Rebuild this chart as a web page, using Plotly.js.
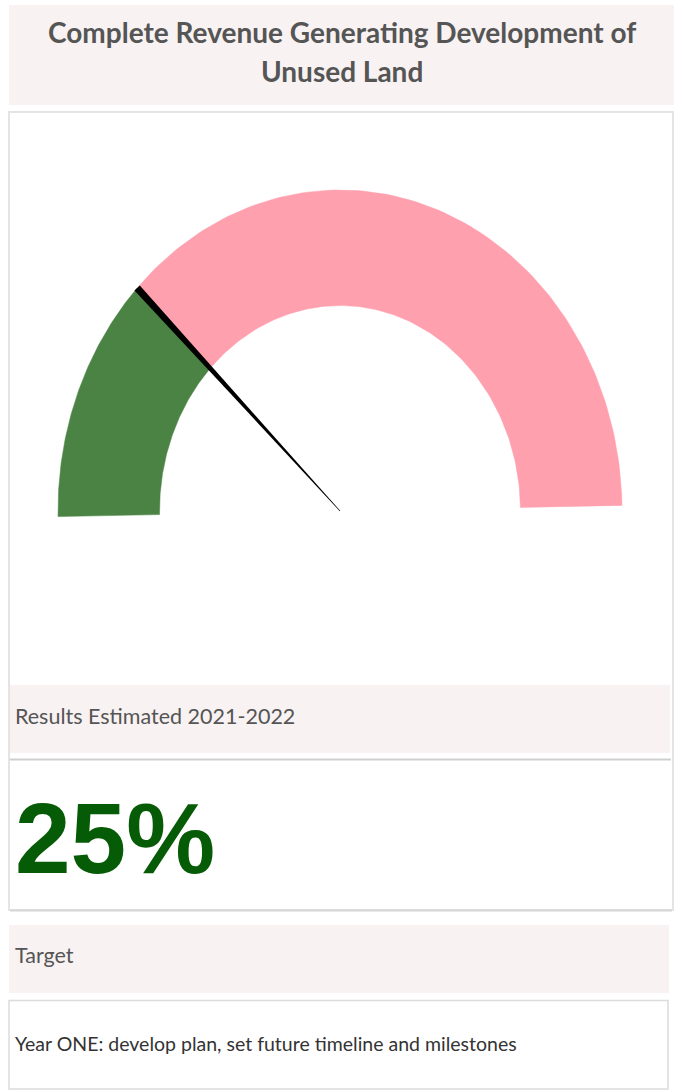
<!DOCTYPE html>
<html>
<head>
<meta charset="utf-8">
<script src="https://cdn.plot.ly/plotly-3.0.1.min.js"></script>
<style>
html,body{margin:0;padding:0;background:#fff;}
#chart{width:677px;height:1091px;}
</style>
</head>
<body>
<div id="chart"></div>
<script>
// ---- data ----
const gaugeMin = 0;
const gaugeMax = 100;
const gaugeValue = 25;
const bandStarts = [0, 25];
const bandEnds = [25, 100];
const bandColors = ['#4b8344', '#ffa0ae'];
const titleLines = ['Complete Revenue Generating Development of', 'Unused Land'];
const resultsLabel = 'Results Estimated 2021-2022';
const valueLabel = gaugeValue + '%';
const targetLabel = 'Target';
const targetText = 'Year ONE: develop plan, set future timeline and milestones';

// ---- layout constants (pixels) ----
const W = 677, H = 1091;
const cx = 340, cy = 511;       // gauge centre
const rxPx = 282, ryPx = 321;   // outer radii
const hole = 0.64;
const rot = 1 * Math.PI / 180;  // slight tilt
const gTop = 113, gBot = 680;

function px2x(p){ return p / W; }
function py2y(p){ return 1 - p / H; }

function ang(v){ return Math.PI * (1 - (v - gaugeMin) / (gaugeMax - gaugeMin)) + rot; }

const traces = [];
for (let i = 0; i < bandStarts.length; i++) {
  const a0 = ang(bandStarts[i]), a1 = ang(bandEnds[i]);
  const xs = [], ys = [];
  const N = 120;
  for (let k = 0; k <= N; k++) { const t = a0 + (a1 - a0) * k / N; xs.push(Math.cos(t)); ys.push(Math.sin(t)); }
  for (let k = N; k >= 0; k--) { const t = a0 + (a1 - a0) * k / N; xs.push(hole * Math.cos(t)); ys.push(hole * Math.sin(t)); }
  xs.push(xs[0]); ys.push(ys[0]);
  traces.push({x: xs, y: ys, type: 'scatter', mode: 'lines', fill: 'toself',
    fillcolor: bandColors[i], line: {width: 0.5, color: bandColors[i]}, hoverinfo: 'skip', showlegend: false});
}
// needle
(function(){
  const t = ang(gaugeValue);
  const tx = rxPx * Math.cos(t), ty = ryPx * Math.sin(t);
  const L = Math.hypot(tx, ty);
  const dx = tx / L, dy = ty / L;
  const nx = -dy, ny = dx;
  const wTip = 3.6, wBase = 0.3;
  const pts = [
    [tx + nx * wTip, ty + ny * wTip],
    [tx - nx * wTip, ty - ny * wTip],
    [-nx * wBase, -ny * wBase],
    [nx * wBase, ny * wBase],
    [tx + nx * wTip, ty + ny * wTip]
  ];
  traces.push({x: pts.map(p => p[0] / rxPx), y: pts.map(p => p[1] / ryPx), type: 'scatter', mode: 'lines',
    fill: 'toself', fillcolor: '#000', line: {width: 0, color: '#000'}, hoverinfo: 'skip', showlegend: false});
})();

const headerFill = '#f8f2f2';
const shapes = [
  {type: 'rect', xref: 'paper', yref: 'paper', x0: px2x(9), x1: px2x(674), y0: py2y(105), y1: py2y(5),
   fillcolor: headerFill, line: {width: 0}, layer: 'below'},
  {type: 'rect', xref: 'paper', yref: 'paper', x0: px2x(9), x1: px2x(673), y0: py2y(910), y1: py2y(112),
   fillcolor: '#ffffff', line: {width: 2, color: '#e4e4e4'}, layer: 'below'},
  {type: 'rect', xref: 'paper', yref: 'paper', x0: px2x(10), x1: px2x(670), y0: py2y(753), y1: py2y(685),
   fillcolor: headerFill, line: {width: 0}, layer: 'below'},
  {type: 'line', xref: 'paper', yref: 'paper', x0: px2x(10), x1: px2x(671), y0: py2y(759.5), y1: py2y(759.5),
   line: {width: 2, color: '#cfcfcf'}, layer: 'below'},
  {type: 'line', xref: 'paper', yref: 'paper', x0: px2x(10), x1: px2x(672), y0: py2y(910.5), y1: py2y(910.5),
   line: {width: 2, color: '#d6d6d6'}, layer: 'below'},
  {type: 'rect', xref: 'paper', yref: 'paper', x0: px2x(9), x1: px2x(669), y0: py2y(993), y1: py2y(925),
   fillcolor: headerFill, line: {width: 0}, layer: 'below'},
  {type: 'rect', xref: 'paper', yref: 'paper', x0: px2x(9), x1: px2x(668), y0: py2y(1089), y1: py2y(1000.5),
   fillcolor: '#ffffff', line: {width: 1.5, color: '#dcdcdc'}, layer: 'below'}
];

const annotations = [
  {xref: 'paper', yref: 'paper', x: px2x(342), y: py2y(32), xanchor: 'center', yanchor: 'middle', showarrow: false,
   text: '<b>' + titleLines[0] + '</b>', font: {family: 'Lato, sans-serif', size: 28, color: '#555555'}},
  {xref: 'paper', yref: 'paper', x: px2x(342), y: py2y(71), xanchor: 'center', yanchor: 'middle', showarrow: false,
   text: '<b>' + titleLines[1] + '</b>', font: {family: 'Lato, sans-serif', size: 28, color: '#555555'}},
  {xref: 'paper', yref: 'paper', x: px2x(13), y: py2y(716), xanchor: 'left', yanchor: 'middle', showarrow: false,
   text: resultsLabel, font: {family: 'Lato, sans-serif', size: 21.5, color: '#555555'}},
  {xref: 'paper', yref: 'paper', x: px2x(13), y: py2y(838), xanchor: 'left', yanchor: 'middle', showarrow: false,
   text: '<b>' + valueLabel + '</b>', font: {family: 'Liberation Sans, Arial, sans-serif', size: 100, color: '#065c06'}},
  {xref: 'paper', yref: 'paper', x: px2x(13), y: py2y(955), xanchor: 'left', yanchor: 'middle', showarrow: false,
   text: targetLabel, font: {family: 'Lato, sans-serif', size: 21.5, color: '#555555'}},
  {xref: 'paper', yref: 'paper', x: px2x(13), y: py2y(1043), xanchor: 'left', yanchor: 'middle', showarrow: false,
   text: targetText, font: {family: 'Lato, sans-serif', size: 19.5, color: '#333333'}}
];

const layout = {
  width: W, height: H,
  margin: {l: 0, r: 0, t: 0, b: 0, pad: 0},
  paper_bgcolor: '#ffffff', plot_bgcolor: 'rgba(0,0,0,0)',
  showlegend: false,
  xaxis: {domain: [0, 1], range: [-cx / rxPx, (W - cx) / rxPx], visible: false, fixedrange: true},
  yaxis: {domain: [py2y(gBot), py2y(gTop)], range: [-(gBot - cy) / ryPx, (cy - gTop) / ryPx], visible: false, fixedrange: true},
  shapes: shapes,
  annotations: annotations
};

Plotly.newPlot('chart', traces, layout, {staticPlot: true, displayModeBar: false});
</script>
</body>
</html>
